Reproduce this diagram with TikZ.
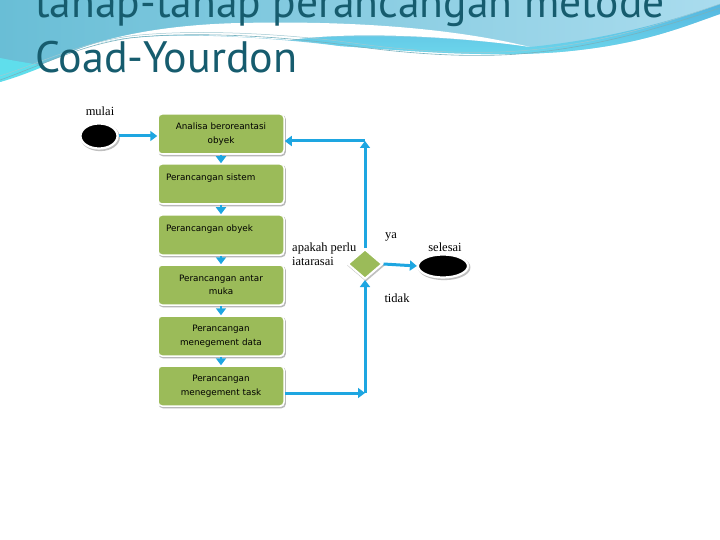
\documentclass[tikz,border=0pt]{standalone}
\usepackage{fontspec}
\setmainfont{Liberation Serif}
\newfontfamily\titlefont{PT Sans}
\newfontfamily\boxfont{DejaVu Sans}
\usetikzlibrary{shapes.geometric,arrows.meta}
\definecolor{titlecol}{RGB}{22,92,110}
\definecolor{skyL}{RGB}{105,190,214}
\definecolor{skyR}{RGB}{170,220,238}
\definecolor{bandtop}{RGB}{85,182,224}
\definecolor{bandbot}{RGB}{110,216,236}
\definecolor{cornercyan}{RGB}{95,222,236}
\definecolor{wline}{RGB}{120,178,190}
\definecolor{boxgreen}{RGB}{155,187,89}
\definecolor{flowblue}{RGB}{30,166,225}
\begin{document}
\begin{tikzpicture}[x=1pt,y=-1pt,
  box/.style={rectangle, rounded corners=4pt, fill=boxgreen, draw=white, line width=1.5pt,
    minimum width=126pt, minimum height=40pt, inner sep=2pt, text width=110pt,
    font=\boxfont\fontsize{8.8}{13.5}\selectfont, text=black,
    preaction={draw=black!28, line width=1.5pt, transform canvas={shift={(1.2pt,-1.6pt)}}}},
  term/.style={ellipse, fill=black, draw=white, line width=2.2pt, inner sep=0pt,
    preaction={draw=black!25, line width=2.5pt, transform canvas={shift={(1.2pt,-1.4pt)}}}},
  dec/.style={diamond, fill=boxgreen, draw=white, line width=2pt, inner sep=0pt,
    minimum width=35pt, minimum height=30pt,
    preaction={draw=black!25, line width=2pt, transform canvas={shift={(1pt,-1.5pt)}}}},
  lbl/.style={font=\fontsize{12.5}{13}\selectfont, inner sep=0pt, text=black},
  flow/.style={draw=flowblue, line width=3pt, -{Triangle[width=10pt,length=7pt]}},
  short/.style={draw=flowblue, line width=2pt, -{Triangle[width=10pt,length=7pt]}}]
\useasboundingbox (0,0) rectangle (720,540);
\fill[white] (0,0) rectangle (720,540);
% --- header background ---
\shade[left color=skyL, right color=skyR]
  (0,0) -- (720,0) -- (720,14) .. controls (680,28) and (640,45) .. (560,52)
  .. controls (480,58) and (400,50) .. (340,46)
  .. controls (260,36) and (150,30) .. (100,43)
  .. controls (60,55) and (30,70) .. (0,82) -- cycle;
\shade[top color=bandtop, bottom color=bandbot]
  (290,40) .. controls (360,32) and (470,38) .. (530,47)
  .. controls (600,40) and (660,25) .. (720,4) -- (720,14)
  .. controls (680,28) and (640,45) .. (560,52)
  .. controls (480,58) and (400,50) .. (340,46)
  .. controls (320,43) and (305,41) .. (290,40) -- cycle;
\fill[white]
  (45,66) .. controls (80,42) and (150,25) .. (240,23)
  .. controls (330,21) and (440,25) .. (530,47)
  .. controls (470,38) and (360,30) .. (290,40)
  .. controls (230,36) and (150,30) .. (100,43)
  .. controls (80,50) and (60,58) .. (45,66) -- cycle;
\fill[cornercyan]
  (0,58) .. controls (20,62) and (35,64) .. (45,66)
  .. controls (30,72) and (15,78) .. (0,82) -- cycle;
\draw[wline, line width=0.6pt]
  (0,80) .. controls (40,66) and (80,45) .. (130,38)
  .. controls (200,30) and (300,38) .. (360,47)
  .. controls (420,55) and (480,58) .. (530,53)
  .. controls (600,46) and (660,28) .. (720,8);
\draw[wline!70!white, line width=0.5pt]
  (0,76) .. controls (40,63) and (80,43) .. (130,36)
  .. controls (200,28) and (300,35) .. (360,44)
  .. controls (420,52) and (480,55) .. (530,50)
  .. controls (600,43) and (660,25) .. (720,4);
% --- title ---
\node[anchor=base west, inner sep=0pt, text=titlecol, font=\titlefont\fontsize{43.5}{44}\selectfont] (t1) at (35,18) {tahap-tahap perancangan metode};
\node[anchor=base west, inner sep=0pt, text=titlecol, font=\titlefont\fontsize{44}{44}\selectfont] (t2) at (35,73) {Coad-Yourdon};
% --- diagram ---
\node[term, minimum width=37pt, minimum height=25pt] (start) at (99,136) {};
\node[lbl] (mulai) at (100,111) {mulai};
\node[box, align=center] (b1) at (221,134) {Analisa beroreantasi\\obyek};
\node[box, align=left]   (b2) at (221,184) {Perancangan sistem\\\mbox{}};
\node[box, align=left]   (b3) at (221,235) {Perancangan obyek\\\mbox{}};
\node[box, align=center] (b4) at (221,285) {Perancangan antar\\muka};
\node[box, align=center] (b5) at (221,336) {Perancangan\\menegement data};
\node[box, align=center] (b6) at (221,386) {Perancangan\\menegement task};
\node[dec] (d) at (365,264) {};
\node[term, minimum width=50pt, minimum height=23pt] (end) at (443,266) {};
\node[lbl] (selesai) at (445,247) {selesai};
\node[lbl, anchor=west, align=left, font=\fontsize{12.5}{13.5}\selectfont] (q) at (292,254) {apakah perlu\\iatarasai};
\node[lbl] (ya) at (391,237) {ya};
\node[lbl] (tidak) at (397,298) {tidak};
\coordinate (ctop) at (365,141);
\coordinate (cbot) at (365,393);
\draw[flow] (start.east) -- (start.east -| b1.west);
\draw[short] (b1) -- (b2);
\draw[short] (b2) -- (b3);
\draw[short] (b3) -- (b4);
\draw[short] (b4) -- (b5);
\draw[short] (b5) -- (b6);
\draw[flow] (b6.east |- cbot) -- (cbot);
\draw[flow] (cbot) -- (d.south);
\draw[flow] (d.north) -- (ctop);
\draw[flow] (ctop) -- (ctop -| b1.east);
\draw[flow] (d.east) -- (end.west);
\end{tikzpicture}
\end{document}
